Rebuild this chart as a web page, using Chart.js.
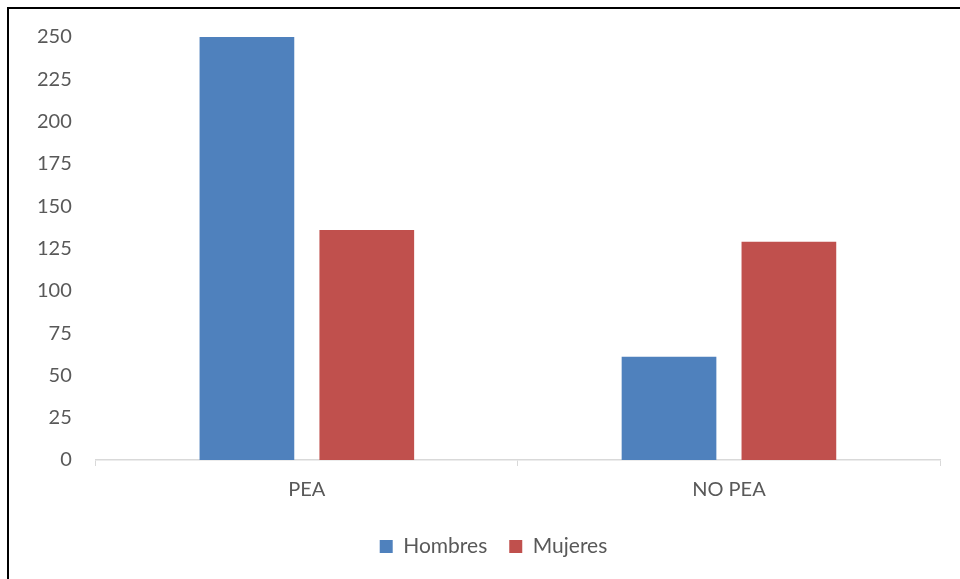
<!DOCTYPE html>
<html>
<head>
<meta charset="utf-8">
<script src="https://cdn.jsdelivr.net/npm/chart.js@4/dist/chart.umd.min.js"></script>
<style>
  html, body { margin: 0; padding: 0; background: #fff; }
  #wrap { position: relative; width: 960px; height: 579px; overflow: hidden; }
  #frame {
    position: absolute; left: 7px; top: 7px; right: -10px; bottom: -10px;
    border-top: 2px solid #000; border-left: 2px solid #000;
    pointer-events: none;
  }
</style>
</head>
<body>
<div id="wrap">
  <canvas id="chart" width="960" height="579"></canvas>
  <div id="frame"></div>
</div>
<script>
// Datos
const categorias = ['PEA', 'NO PEA'];
const hombres = [250, 61];
const mujeres = [136, 129];

const textColor = '#595959';
const fontFamily = 'Lato, "Open Sans", sans-serif';

// desplaza la leyenda un poco a la derecha, como en el original
const legendShift = {
    id: 'legendShift',
    afterLayout(chart) {
        chart.legend.left += 13;
        chart.legend.right += 13;
    }
};

new Chart(document.getElementById('chart'), {
    type: 'bar',
    data: {
        labels: categorias,
        datasets: [
            {
                label: 'Hombres',
                data: hombres,
                backgroundColor: '#4F81BD',
                borderWidth: 0
            },
            {
                label: 'Mujeres',
                data: mujeres,
                backgroundColor: '#C0504D',
                borderWidth: 0
            }
        ]
    },
    plugins: [legendShift],
    options: {
        responsive: false,
        animation: false,
        layout: { padding: { left: 21, right: 20, top: 37, bottom: 12 } },
        datasets: {
            bar: { categoryPercentage: 0.568, barPercentage: 0.79 }
        },
        plugins: {
            legend: {
                position: 'bottom',
                labels: {
                    color: textColor,
                    font: { family: fontFamily, size: 21 },
                    boxWidth: 13,
                    boxHeight: 13,
                    padding: 22
                }
            },
            tooltip: { enabled: false }
        },
        scales: {
            x: {
                grid: {
                    display: true,
                    offset: true,
                    drawOnChartArea: false,
                    drawTicks: true,
                    tickLength: 6,
                    color: '#d9d9d9'
                },
                border: { display: true, color: '#d9d9d9', width: 1.5 },
                ticks: {
                    color: textColor,
                    font: { family: fontFamily, size: 20 },
                    padding: 12
                }
            },
            y: {
                min: 0,
                max: 250,
                grid: { display: false },
                border: { display: false },
                ticks: {
                    stepSize: 25,
                    color: textColor,
                    font: { family: fontFamily, size: 20 },
                    padding: 16
                }
            }
        }
    }
});
</script>
</body>
</html>
